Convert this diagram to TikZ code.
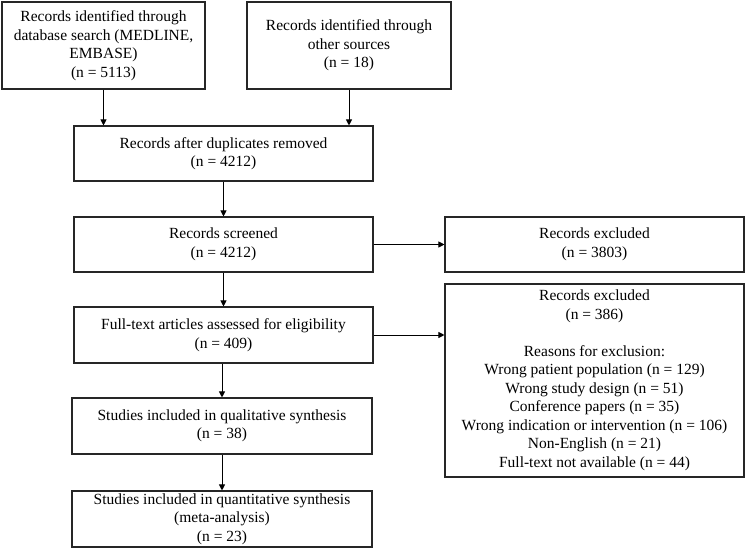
\documentclass[tikz,border=0pt]{standalone}
\usepackage{fontspec}
\setmainfont{Liberation Serif}
\usetikzlibrary{arrows.meta}
\begin{document}
\begin{tikzpicture}[x=1pt,y=-1pt,
  box/.style={draw=black!85,line width=1.1pt,align=center,inner sep=0pt,
    font=\fontsize{15.5}{18.5}\selectfont},
  arr/.style={draw=black,line width=1pt,-{Triangle[length=6pt,width=6pt]}}]
\useasboundingbox[fill=white] (0,0) rectangle (747,549);
\node[box,minimum width=203pt,minimum height=87pt] (db) at (103.5,45.5)
  {Records identified through\\database search (MEDLINE,\\EMBASE)\\(n = 5113)};
\node[box,minimum width=204pt,minimum height=87pt] (oth) at (349,45.5)
  {Records identified through\\other sources\\(n = 18)};
\node[box,minimum width=299pt,minimum height=55pt] (dup) at (223.5,153.5)
  {Records after duplicates removed\\(n = 4212)};
\node[box,minimum width=299pt,minimum height=55pt] (scr) at (223.5,244.5)
  {Records screened\\(n = 4212)};
\node[box,minimum width=299pt,minimum height=56pt] (full) at (223.5,335)
  {Full-text articles assessed for eligibility\\(n = 409)};
\node[box,minimum width=300pt,minimum height=56pt] (qual) at (222,426)
  {Studies included in qualitative synthesis\\(n = 38)};
\node[box,minimum width=300pt,minimum height=56pt] (quant) at (222,519)
  {Studies included in quantitative synthesis\\(meta-analysis)\\(n = 23)};
\node[box,minimum width=299pt,minimum height=55pt] (ex1) at (594.5,244.5)
  {Records excluded\\(n = 3803)};
\node[box,minimum width=299pt,minimum height=193pt] (ex2) at (594.5,380.5)
  {Records excluded\\(n = 386)\\[18.5pt]Reasons for exclusion:\\Wrong patient population (n = 129)\\Wrong study design (n = 51)\\Conference papers (n = 35)\\Wrong indication or intervention (n = 106)\\Non-English (n = 21)\\Full-text not available (n = 44)};
\draw[arr] (db.south) -- (db.south |- dup.north);
\draw[arr] (oth.south) -- (oth.south |- dup.north);
\draw[arr] (dup) -- (scr);
\draw[arr] (scr) -- (full);
\draw[arr] (scr) -- (ex1);
\draw[arr] (full.east) -- (full.east -| ex2.west);
\draw[arr] (full.south -| qual) -- (qual);
\draw[arr] (qual) -- (quant);
\end{tikzpicture}
\end{document}
